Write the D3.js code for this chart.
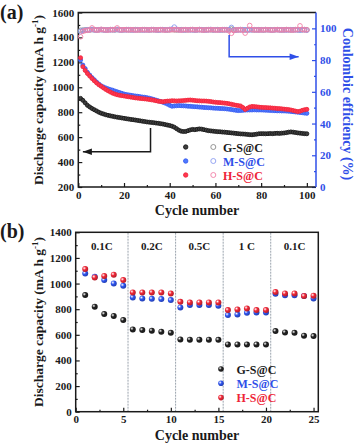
<!DOCTYPE html>
<html>
<head>
<meta charset="utf-8">
<script src="https://cdn.jsdelivr.net/npm/d3@7"></script>
<style>
  body { margin: 0; background: #fff; }
  svg { display: block; font-family: "Liberation Serif", "Times New Roman", serif; font-weight: bold; }
</style>
</head>
<body>
<div id="chart"></div>
<script>
// ---------- data ----------
var seriesNames = ["G-S@C", "M-S@C", "H-S@C"];

// (a) discharge capacity, cycles 1..100
var capG = [911,895,875,855,842,830,820,810,800,792, 786,780,775,771,767,763,760,757,754,751,
  748,745,742,740,737,734,731,728,725,722, 720,718,716,713,711,708,705,701,697,693,
  688,680,668,656,648,645,646,652,658,662, 660,663,666,664,660,656,652,650,648,646,
  644,643,641,640,638,636,634,632,630,628, 626,625,624,622,620,619,621,624,627,628,
  628,627,628,629,628,630,631,630,632,633, 636,640,642,640,637,634,632,630,628,627];
var capM = [1218,1178,1150,1120,1098,1078,1060,1042,1026,1012, 1003,995,988,982,977,970,964,958,952,946,
  942,939,936,933,930,928,925,922,920,917, 913,908,903,897,891,886,880,873,865,855,
  848,850,852,853,852,851,850,848,847,845, 844,843,841,840,838,837,836,835,833,832,
  831,830,829,828,826,824,821,818,815,813, 814,815,817,818,818,818,819,818,818,818,
  817,816,815,814,813,812,811,811,810,810, 809,808,806,804,802,800,798,796,793,791];
var capH = [1237,1165,1135,1110,1090,1070,1052,1035,1020,1008, 995,983,972,962,953,946,940,936,933,930,
  927,924,921,918,915,913,911,909,907,905, 902,899,896,892,888,886,884,887,889,890,
  892,891,890,891,892,893,895,897,898,896, 894,892,891,890,890,889,887,885,882,880,
  878,877,875,873,871,868,864,860,856,853, 850,838,822,832,842,846,845,843,841,839,
  838,837,836,835,833,832,830,829,827,825, 823,821,818,814,809,805,808,815,820,823];

// (a) coulombic efficiency (%), cycles 1..100
var ceG = [98.8,98.9,99.0,99.1,99.0,99.2,99.1,99.0,99.1,99.2, 99.1,99.0,99.1,99.2,99.1,99.0,99.2,99.1,99.0,99.1,
  99.2,99.1,99.0,99.1,99.2,99.1,99.0,99.1,99.2,99.1, 99.0,99.1,99.2,99.1,99.0,99.1,99.2,99.1,99.0,99.1,
  99.2,99.1,99.0,99.1,99.2,99.1,99.0,99.1,99.2,99.1, 99.0,99.1,99.2,99.1,99.0,99.1,99.2,99.1,99.0,99.1,
  99.2,99.1,99.0,99.1,99.2,99.1,99.6,99.1,99.0,99.1, 99.2,99.1,99.0,99.1,99.2,99.1,99.0,99.1,99.2,99.1,
  99.0,99.1,99.2,99.1,99.0,99.1,99.2,99.1,99.0,99.1, 99.2,99.1,99.0,99.1,99.2,99.1,99.0,99.1,99.2,99.1];
var ceM = [98.0,98.6,98.9,99.0,99.1,99.3,99.0,98.9,99.1,99.2, 99.0,98.9,99.1,99.0,99.2,99.1,99.3,99.0,98.9,99.1,
  99.0,99.2,99.1,98.9,99.0,99.1,99.2,99.0,98.9,99.1, 99.0,99.2,99.1,99.0,98.9,99.1,99.2,99.0,99.1,99.3,
  99.5,100.8,99.4,99.1,99.0,98.9,99.1,99.2,99.0,99.1, 98.9,99.0,99.2,99.1,99.0,98.9,99.1,99.3,99.0,99.1,
  99.0,98.9,99.1,99.2,99.0,99.1,100.6,98.7,98.9,99.1, 99.0,99.2,99.1,98.9,99.0,99.1,99.2,99.0,98.9,99.1,
  99.0,99.2,99.1,99.0,98.9,99.1,99.2,99.0,99.1,99.0, 98.9,99.1,99.2,99.0,99.1,99.0,98.9,99.1,99.2,98.8];
var ceH = [94.7,98.1,98.6,98.8,99.0,100.3,99.2,98.9,99.0,99.4, 99.1,99.0,98.9,99.2,99.1,99.3,100.3,99.1,99.0,99.2,
  99.1,99.0,99.2,99.1,98.9,99.0,99.1,99.2,99.0,99.1, 99.0,99.2,99.1,99.0,99.1,99.2,99.0,98.9,99.1,99.0,
  99.2,99.1,99.3,99.0,98.9,99.1,99.2,99.0,99.1,99.3, 99.0,99.1,99.2,99.0,98.9,99.1,99.0,99.2,99.1,99.0,
  98.9,99.1,99.2,99.0,99.1,98.4,96.9,98.6,99.1,99.0, 99.2,98.8,97.0,99.0,101.8,99.2,99.0,99.1,98.9,99.1,
  99.0,99.2,99.1,99.0,98.9,99.1,99.2,99.0,99.1,99.0, 99.2,99.1,99.0,98.9,99.1,99.2,101.6,99.3,99.0,99.1];

// (b) rate capability, cycles 1..25
var rateG = [910,819,762,747,715, 642,637,632,624,616, 564,562,562,562,561, 525,525,525,525,524, 629,619,616,593,590];
var rateM = [1079,1053,1027,1001,983, 892,884,881,879,871, 814,832,832,832,827, 754,759,772,775,775, 921,908,908,903,884];
var rateH = [1113,1048,1059,1069,1027, 931,931,931,931,923, 858,853,853,853,853, 793,798,806,793,793, 934,923,923,903,905];
var rateLabels = ["0.1C", "0.2C", "0.5C", "1 C", "0.1C"];
var rateBreaks = [0, 5.5, 10.5, 15.5, 20.5, 25.5];

// ticks
var capTicksA = [200,400,600,800,1000,1200,1400,1600];
var ceTicks = [0,20,40,60,80,100];
var cycleTicksA = [0,20,40,60,80,100];
var capTicksB = [0,200,400,600,800,1000,1200,1400];
var cycleTicksB = [0,5,10,15,20,25];

// ---------- style ----------
var black = "#1a1a1a", blue = "#2f4fe8", red = "#ee2438";
var fillCol = [black, "#3a5cf0", "#f0283c"];
var openCol = ["#8a8a8a", "#8b9cf0", "#f27fa6"];
var textCol = [black, blue, red];
var fmt = d3.format("d");

var W = 357, H = 446;
var svg = d3.select("#chart").append("svg")
    .attr("width", W)
    .attr("height", H);

var defs = svg.append("defs");
["#222", "#2f55f0", "#f02838"].forEach(function(c, i) {
  var g = defs.append("radialGradient")
      .attr("id", "ball" + i)
      .attr("cx", "35%").attr("cy", "35%").attr("r", "65%");
  g.append("stop").attr("offset", "0%").attr("stop-color", "#fff");
  g.append("stop").attr("offset", "45%").attr("stop-color", c);
  g.append("stop").attr("offset", "100%").attr("stop-color", d3.color(c).darker(0.8));
});

// ================= panel (a) =================
var xA = d3.scaleLinear().domain([0, 104]).range([78.3, 316]);
var yA = d3.scaleLinear().domain([200, 1600]).range([187, 12.5]);
var yCE = d3.scaleLinear().domain([0, 110]).range([187, 12.5]);

var gA = svg.append("g");

// ticks (inward)
function tickStyle(sel, col) {
  sel.select(".domain").remove();
  sel.selectAll("line").attr("stroke", col).attr("stroke-width", 1.2);
  sel.selectAll("text")
    .attr("fill", col)
    .attr("font-family", "Liberation Serif, Times New Roman, serif")
    .attr("font-weight", "bold")
    .attr("font-size", "11px");
}

gA.append("g").attr("transform", "translate(0," + yA.range()[0] + ")")
  .call(d3.axisBottom(xA).tickValues(cycleTicksA).tickFormat(fmt).tickSize(-4).tickPadding(4))
  .call(tickStyle, black);
gA.append("g").attr("transform", "translate(0," + yA.range()[0] + ")")
  .call(d3.axisBottom(xA).tickValues([10,30,50,70,90]).tickSize(-2).tickFormat(""))
  .call(tickStyle, black);
gA.append("g").attr("transform", "translate(" + xA.range()[0] + ",0)")
  .call(d3.axisLeft(yA).tickValues(capTicksA).tickFormat(fmt).tickSize(-4).tickPadding(4))
  .call(tickStyle, black);
gA.append("g").attr("transform", "translate(" + xA.range()[0] + ",0)")
  .call(d3.axisLeft(yA).tickValues([300,500,700,900,1100,1300,1500]).tickSize(-2).tickFormat(""))
  .call(tickStyle, black);
gA.append("g").attr("transform", "translate(" + xA.range()[1] + ",0)")
  .call(d3.axisRight(yCE).tickValues(ceTicks).tickFormat(fmt).tickSize(-4).tickPadding(4))
  .call(tickStyle, blue);
gA.append("g").attr("transform", "translate(" + xA.range()[1] + ",0)")
  .call(d3.axisRight(yCE).tickValues([10,30,50,70,90]).tickSize(-2).tickFormat(""))
  .call(tickStyle, blue);

// frame
gA.append("path")
  .attr("d", "M" + xA.range()[1] + "," + yA.range()[1] + "H" + xA.range()[0] + "V" + yA.range()[0] + "H" + xA.range()[1])
  .attr("fill", "none").attr("stroke", black).attr("stroke-width", 1.5);
gA.append("line")
  .attr("x1", xA.range()[1]).attr("x2", xA.range()[1])
  .attr("y1", yA.range()[1]).attr("y2", yA.range()[0])
  .attr("stroke", blue).attr("stroke-width", 1.5);

// capacity points
[capG, capM, capH].forEach(function(arr, s) {
  gA.append("g").selectAll("circle")
    .data(arr)
    .enter().append("circle")
      .attr("cx", function(d, i) { return xA(i + 1); })
      .attr("cy", function(d) { return yA(d); })
      .attr("r", 2)
      .attr("fill", d3.color(fillCol[s]).brighter(s == 0 ? 2.5 : 0.8))
      .attr("stroke", fillCol[s])
      .attr("stroke-width", 0.9);
});

// coulombic efficiency points (open)
[ceG, ceM, ceH].forEach(function(arr, s) {
  gA.append("g").selectAll("circle")
    .data(arr)
    .enter().append("circle")
      .attr("cx", function(d, i) { return xA(i + 1); })
      .attr("cy", function(d) { return yCE(d); })
      .attr("r", 2.3)
      .attr("fill", "none")
      .attr("stroke", openCol[s])
      .attr("stroke-width", 0.9);
});

// arrows
function arrow(g, pts, col) {
  g.append("path").attr("d", d3.line()(pts))
    .attr("fill", "none").attr("stroke", col).attr("stroke-width", 1.5);
  var tip = pts[pts.length - 1], prev = pts[pts.length - 2];
  var dir = tip[0] < prev[0] ? 1 : -1;
  g.append("path")
    .attr("d", "M" + tip[0] + "," + tip[1] + "L" + (tip[0] + dir * 9) + "," + (tip[1] - 3.2) +
               "L" + (tip[0] + dir * 9) + "," + (tip[1] + 3.2) + "Z")
    .attr("fill", col);
}
arrow(gA, [[xA(31.6), yA(673)], [xA(31.6), yA(483)], [xA(2), yA(483)]], black);
arrow(gA, [[xA(66), yCE(95.8)], [xA(66), yCE(82.1)], [xA(96.4), yCE(82.1)]], blue);

// legend (a)
var legA = gA.append("g");
seriesNames.forEach(function(name, i) {
  var yy = 147 + i * 14;
  legA.append("circle").attr("cx", 185.7).attr("cy", yy).attr("r", 2.2)
    .attr("fill", d3.color(fillCol[i]).brighter(i == 0 ? 2.5 : 0.8))
    .attr("stroke", fillCol[i]).attr("stroke-width", 0.9);
  legA.append("circle").attr("cx", 213.3).attr("cy", yy).attr("r", 2.5)
    .attr("fill", "none").attr("stroke", openCol[i]).attr("stroke-width", 0.9);
  legA.append("text").attr("x", 223).attr("y", yy + 4.5)
    .attr("font-size", "12px").attr("fill", textCol[i]).text(name);
});

// titles (a)
gA.append("text").attr("x", 0).attr("y", 19).attr("font-size", "20px").attr("fill", black).text("(a)");
gA.append("text")
  .attr("x", 197).attr("y", 215)
  .attr("text-anchor", "middle").attr("font-size", "14px").attr("fill", black)
  .text("Cycle number");
var ytA = gA.append("text")
  .attr("transform", "translate(43," + 100 + ") rotate(-90)")
  .attr("text-anchor", "middle").attr("font-size", "13.5px").attr("fill", black);
ytA.append("tspan").text("Discharge capacity (mA h g");
ytA.append("tspan").attr("dy", -5).attr("font-size", "9px").text("-1");
ytA.append("tspan").attr("dy", 5).text(")");
gA.append("text")
  .attr("transform", "translate(343," + 104 + ") rotate(90)")
  .attr("text-anchor", "middle").attr("font-size", "14px").attr("fill", blue)
  .text("Coulombic efficiency (%)");

// ================= panel (b) =================
var xB = d3.scaleLinear().domain([0, 25.5]).range([75.7, 318.3]);
var yB = d3.scaleLinear().domain([0, 1400]).range([411.7, 232.3]);
var gB = svg.append("g");

// rate separators
gB.append("g").selectAll("line")
  .data(rateBreaks.slice(1, -1))
  .enter().append("line")
    .attr("x1", function(d) { return xB(d); })
    .attr("x2", function(d) { return xB(d); })
    .attr("y1", yB.range()[0]).attr("y2", yB.range()[1])
    .attr("stroke", "#9aa3ad").attr("stroke-width", 1)
    .attr("stroke-dasharray", "2,1");

gB.append("g").attr("transform", "translate(0," + yB.range()[0] + ")")
  .call(d3.axisBottom(xB).tickValues(cycleTicksB).tickFormat(fmt).tickSize(-4).tickPadding(4))
  .call(tickStyle, black);
gB.append("g").attr("transform", "translate(0," + yB.range()[0] + ")")
  .call(d3.axisBottom(xB).tickValues([2.5,7.5,12.5,17.5,22.5]).tickSize(-2).tickFormat(""))
  .call(tickStyle, black);
gB.append("g").attr("transform", "translate(" + xB.range()[0] + ",0)")
  .call(d3.axisLeft(yB).tickValues(capTicksB).tickFormat(fmt).tickSize(-4).tickPadding(4))
  .call(tickStyle, black);
gB.append("g").attr("transform", "translate(" + xB.range()[0] + ",0)")
  .call(d3.axisLeft(yB).tickValues([100,300,500,700,900,1100,1300]).tickSize(-2).tickFormat(""))
  .call(tickStyle, black);

gB.append("rect")
  .attr("x", xB.range()[0]).attr("y", yB.range()[1])
  .attr("width", xB.range()[1] - xB.range()[0])
  .attr("height", yB.range()[0] - yB.range()[1])
  .attr("fill", "none").attr("stroke", black).attr("stroke-width", 1.5);

// rate labels
gB.append("g").selectAll("text")
  .data(rateLabels)
  .enter().append("text")
    .attr("x", function(d, i) { return (xB(rateBreaks[i]) + xB(rateBreaks[i + 1])) / 2; })
    .attr("y", 250)
    .attr("text-anchor", "middle")
    .attr("font-size", "11px")
    .attr("fill", black)
    .text(function(d) { return d; });

[rateG, rateM, rateH].forEach(function(arr, s) {
  gB.append("g").selectAll("circle")
    .data(arr)
    .enter().append("circle")
      .attr("cx", function(d, i) { return xB(i + 1); })
      .attr("cy", function(d) { return yB(d); })
      .attr("r", 3)
      .attr("fill", "url(#ball" + s + ")");
});

// legend (b)
seriesNames.forEach(function(name, i) {
  var yy = 369 + i * 14.3;
  gB.append("circle").attr("cx", 221).attr("cy", yy).attr("r", 2.8)
    .attr("fill", "url(#ball" + i + ")");
  gB.append("text").attr("x", 236.5).attr("y", yy + 4.5)
    .attr("font-size", "12px").attr("fill", textCol[i]).text(name);
});

gB.append("text").attr("x", 0).attr("y", 238).attr("font-size", "20px").attr("fill", black).text("(b)");
gB.append("text")
  .attr("x", 197).attr("y", 440)
  .attr("text-anchor", "middle").attr("font-size", "14px").attr("fill", black)
  .text("Cycle number");
var ytB = gB.append("text")
  .attr("transform", "translate(43," + 322 + ") rotate(-90)")
  .attr("text-anchor", "middle").attr("font-size", "13.5px").attr("fill", black);
ytB.append("tspan").text("Discharge capacity (mA h g");
ytB.append("tspan").attr("dy", -5).attr("font-size", "9px").text("-1");
ytB.append("tspan").attr("dy", 5).text(")");
</script>
</body>
</html>
